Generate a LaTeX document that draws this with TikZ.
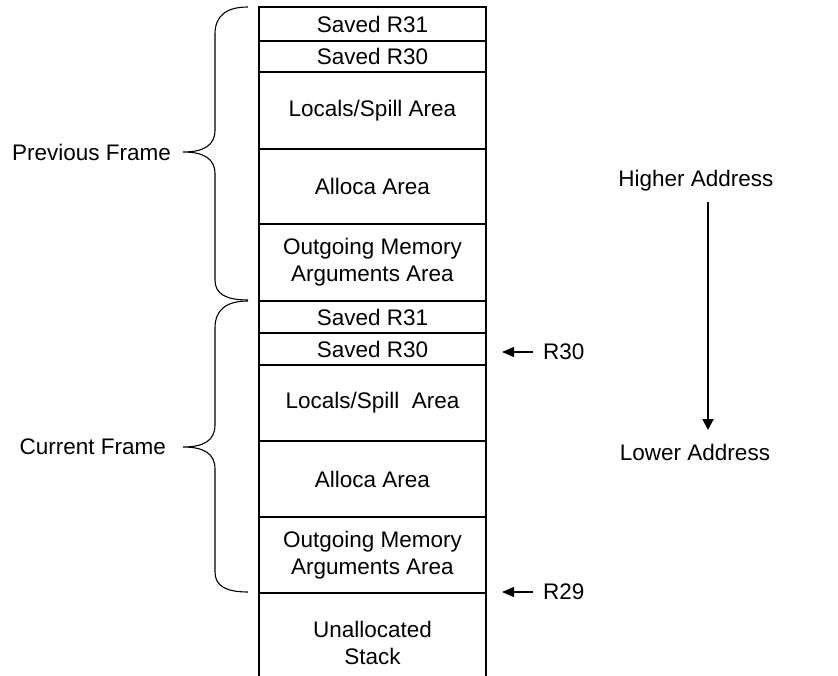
\documentclass[tikz,border=0pt]{standalone}
\usepackage{fontspec}
\setmainfont{Liberation Sans}
\usetikzlibrary{arrows.meta}
\begin{document}
\begin{tikzpicture}[x=1bp,y=-1bp,
  every node/.style={font=\fontsize{22.5bp}{27bp}\selectfont, inner sep=0pt},
  cell/.style={draw, line width=1.1bp, minimum width=227bp, align=center},
  brace/.style={line width=1.1bp},
  ptr/.style={line width=1.1bp, -{Triangle[length=12bp,width=10bp]}},
  bigptr/.style={line width=2bp, -{Triangle[length=11bp,width=11bp]}}]
\useasboundingbox (0,0) rectangle (838,676);
\clip (0,0) rectangle (838,676);
% previous frame
\node[cell, minimum height=34bp] (p1) at (372.5,24) {Saved R31};
\node[cell, minimum height=31bp] (p2) at (372.5,56.5) {Saved R30};
\node[cell, minimum height=77bp] (p3) at (372.5,110.5) {Locals/Spill Area};
\node[cell, minimum height=75bp] (p4) at (372.5,186.5) {Alloca Area};
\node[cell, minimum height=77bp] (p5) at (372.5,262.5) {Outgoing Memory\\Arguments Area};
% current frame
\node[cell, minimum height=32bp] (c1) at (372.5,317) {Saved R31};
\node[cell, minimum height=32bp] (c2) at (372.5,349) {Saved R30};
\node[cell, minimum height=76bp] (c3) at (372.5,403) {Locals/Spill~~Area};
\node[cell, minimum height=76bp] (c4) at (372.5,479) {Alloca Area};
\node[cell, minimum height=76bp] (c5) at (372.5,555) {Outgoing Memory\\Arguments Area};
\node[cell, minimum height=100bp] (un) at (372.5,643) {Unallocated\\Stack};
% braces
\draw[brace] (248,7) .. controls (226,7) and (215,16) .. (215,34)
  -- (215,130) .. controls (215,146) and (203,152) .. (183,152)
  .. controls (203,152) and (215,158) .. (215,174)
  -- (215,280) .. controls (215,294) and (226,300) .. (248,300);
\draw[brace] (248,301) .. controls (226,301) and (215,310) .. (215,328)
  -- (215,425) .. controls (215,441) and (203,447) .. (183,447)
  .. controls (203,447) and (215,453) .. (215,469)
  -- (215,572) .. controls (215,586) and (226,592) .. (248,592);
\node[anchor=east] (prev) at (171,152) {Previous Frame};
\node[anchor=east] (cur) at (166,447) {Current Frame};
% register pointers
\node[anchor=west] (r30) at (543,352) {R30};
\node[anchor=west] (r29) at (543,592) {R29};
\coordinate (r30tip) at (502,352);
\coordinate (r29tip) at (502,592);
\draw[ptr] ([xshift=-10bp]r30.west) -- (r30tip);
\draw[ptr] ([xshift=-10bp]r29.west) -- (r29tip);
% address direction
\node (hi) at (696,181) {Higher Address};
\node (lo) at (695,452) {Lower Address};
\coordinate (ahi) at (708,202);
\coordinate (alo) at (708,430);
\draw[bigptr] (ahi) -- (alo);
\end{tikzpicture}
\end{document}
